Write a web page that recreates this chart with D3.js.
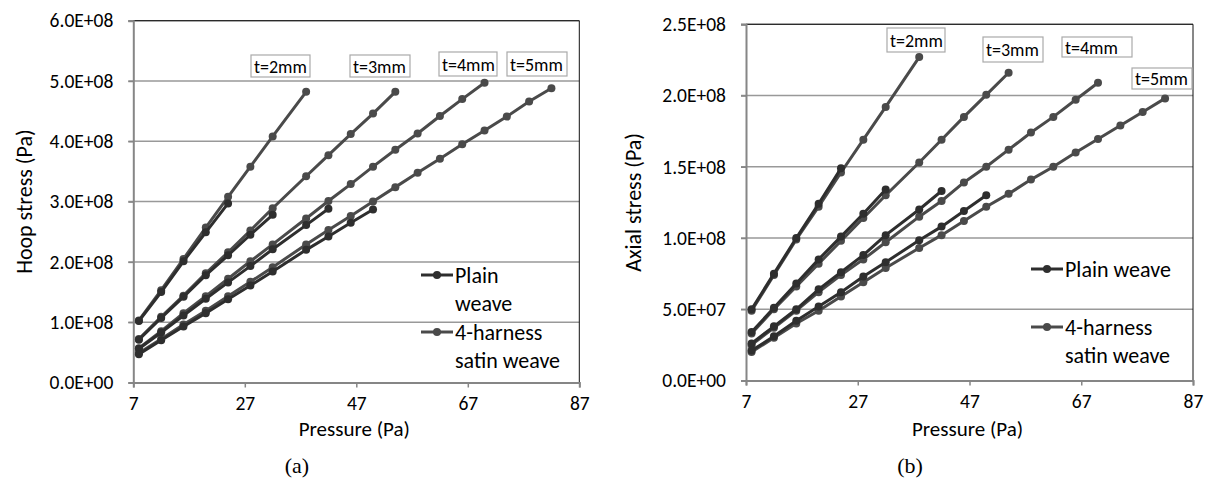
<!DOCTYPE html>
<html>
<head>
<meta charset="utf-8">
<script src="https://cdn.jsdelivr.net/npm/d3@7"></script>
<style>
  body { margin: 0; background: #fff; }
  svg text { font-family: Carlito, Lato, "Open Sans", sans-serif; fill: #000; }
</style>
</head>
<body>
<svg id="chart" width="1210" height="491"></svg>
<script>
// Pressure steps shared by every series (each series uses the first n of them)
const pressure = [8, 12, 16, 20, 24, 28, 32, 38, 42, 46, 50, 54, 58, 62, 66, 70, 74, 78, 82];
const thickness = ['t=2mm', 't=3mm', 't=4mm', 't=5mm'];
const xTicks = [7, 27, 47, 67, 87];

// (a) hoop stress, units of 1e8 Pa
const hoopPlain = [
  [1.02, 1.50, 2.01, 2.49, 2.97],
  [0.71, 1.07, 1.42, 1.78, 2.11, 2.45, 2.78],
  [0.56, 0.83, 1.11, 1.39, 1.66, 1.93, 2.21, 2.61, 2.88],
  [0.47, 0.70, 0.93, 1.15, 1.38, 1.61, 1.84, 2.20, 2.42, 2.65, 2.87]
];
const hoopSatin = [
  [1.03, 1.53, 2.05, 2.57, 3.08, 3.58, 4.08, 4.82],
  [0.72, 1.09, 1.44, 1.81, 2.16, 2.52, 2.89, 3.42, 3.77, 4.12, 4.46, 4.82],
  [0.57, 0.85, 1.15, 1.43, 1.72, 2.01, 2.29, 2.72, 3.01, 3.29, 3.58, 3.86, 4.13, 4.42, 4.70, 4.97],
  [0.49, 0.72, 0.96, 1.19, 1.43, 1.67, 1.91, 2.29, 2.53, 2.76, 3.00, 3.24, 3.48, 3.71, 3.95, 4.18, 4.41, 4.66, 4.88]
];
const hoopTicks = [0, 1e8, 2e8, 3e8, 4e8, 5e8, 6e8];

// (b) axial stress, units of 1e8 Pa
const axialPlain = [
  [0.50, 0.75, 1.00, 1.24, 1.49],
  [0.34, 0.51, 0.68, 0.85, 1.01, 1.17, 1.34],
  [0.26, 0.38, 0.50, 0.64, 0.76, 0.88, 1.02, 1.20, 1.33],
  [0.21, 0.31, 0.42, 0.52, 0.62, 0.73, 0.83, 0.985, 1.08, 1.19, 1.30]
];
const axialSatin = [
  [0.49, 0.74, 0.99, 1.22, 1.46, 1.69, 1.92, 2.27],
  [0.33, 0.50, 0.66, 0.82, 0.98, 1.14, 1.30, 1.53, 1.69, 1.85, 2.005, 2.16],
  [0.25, 0.37, 0.49, 0.62, 0.74, 0.85, 0.97, 1.15, 1.26, 1.39, 1.50, 1.62, 1.74, 1.85, 1.97, 2.09],
  [0.20, 0.30, 0.40, 0.49, 0.59, 0.69, 0.79, 0.93, 1.02, 1.12, 1.22, 1.31, 1.41, 1.50, 1.60, 1.695, 1.79, 1.885, 1.98]
];
const axialTicks = [0, 0.5e8, 1e8, 1.5e8, 2e8, 2.5e8];

const svg = d3.select('#chart');

// Excel style "6.0E+08"
function sci(v) {
  const s = v.toExponential(1).split('e');
  const e = parseInt(s[1], 10);
  return s[0] + 'E' + (e < 0 ? '-' : '+') + String(Math.abs(e)).padStart(2, '0');
}

function drawPanel(cfg) {
  const x = d3.scaleLinear().domain([7, 87]).range([cfg.left, cfg.right]);
  const y = d3.scaleLinear().domain([0, cfg.yMax]).range([cfg.bottom, cfg.top]);
  const g = svg.append('g');

  // gridlines
  g.selectAll('line.grid').data(cfg.yTicks.slice(1)).enter().append('line')
    .attr('x1', cfg.left - 5).attr('x2', cfg.right)
    .attr('y1', d => y(d)).attr('y2', d => y(d))
    .style('stroke', '#999').style('stroke-width', 1.5);

  // frame top / right
  g.append('path')
    .attr('d', `M${cfg.left},${cfg.top}H${cfg.right}V${cfg.bottom}`)
    .style('fill', 'none').style('stroke', '#111').style('stroke-width', 1);

  // y axis
  const yAxis = d3.axisLeft(y).tickValues(cfg.yTicks).tickFormat(sci).tickSize(5).tickPadding(15);
  const ya = g.append('g').attr('transform', `translate(${cfg.left},0)`).call(yAxis);
  // x axis
  const xAxis = d3.axisBottom(x).tickValues(xTicks).tickFormat(d3.format('d')).tickSize(5).tickPadding(9);
  const xa = g.append('g').attr('transform', `translate(0,${cfg.bottom})`).call(xAxis);
  [ya, xa].forEach(a => {
    a.select('.domain').style('stroke', '#868686').style('stroke-width', 2);
    a.selectAll('.tick line').style('stroke', '#868686').style('stroke-width', 1.5);
    a.selectAll('.tick text').style('font-size', '19.5px').style('fill', '#000');
  });

  // series
  const line = d3.line().x((d, i) => x(pressure[i])).y(d => y(d * 1e8));
  const groups = [
    { data: cfg.satin, color: '#4a4a4a' },
    { data: cfg.plain, color: '#2e2e2e' }
  ];
  groups.forEach(grp => {
    grp.data.forEach(vals => {
      g.append('path').datum(vals).attr('d', line)
        .style('fill', 'none').style('stroke', grp.color).style('stroke-width', 3);
      g.selectAll(null).data(vals).enter().append('circle')
        .attr('cx', (d, i) => x(pressure[i])).attr('cy', d => y(d * 1e8))
        .attr('r', 4).style('fill', grp.color);
    });
  });

  // thickness boxes
  cfg.boxes.forEach((b, i) => {
    g.append('rect').attr('x', b[0]).attr('y', b[1]).attr('width', b[2]).attr('height', b[3])
      .style('fill', '#fff').style('stroke', '#aaa').style('stroke-width', 1.2);
    g.append('text').attr('x', b[0] + 3).attr('y', b[1] + b[3] / 2 + 6.5)
      .style('font-size', '18px').text(thickness[i]);
  });

  // legend
  cfg.legend.forEach(it => {
    g.append('line').attr('x1', it.x).attr('x2', it.x + 32).attr('y1', it.y).attr('y2', it.y)
      .style('stroke', it.color).style('stroke-width', 3);
    g.append('circle').attr('cx', it.x + 16).attr('cy', it.y).attr('r', 4).style('fill', it.color);
    it.lines.forEach((t, k) => {
      g.append('text').attr('x', it.x + 34).attr('y', it.y + 7.5 + k * 28.5)
        .style('font-size', '22px').text(t);
    });
  });

  // axis titles
  g.append('text').attr('transform', `translate(${cfg.yTitleX},${(cfg.top + cfg.bottom) / 2}) rotate(-90)`)
    .attr('text-anchor', 'middle').style('font-size', '22px').text(cfg.yTitle);
  g.append('text').attr('x', (cfg.left + cfg.right) / 2 - 2).attr('y', 436)
    .attr('text-anchor', 'middle').style('font-size', '21px').text('Pressure (Pa)');
  g.append('text').attr('x', cfg.capX).attr('y', 473).attr('text-anchor', 'middle')
    .style('font-family', '"Liberation Serif", "DejaVu Serif", serif').style('font-size', '22px')
    .text(cfg.caption);
}

drawPanel({
  left: 133.3, right: 579.3, top: 20.7, bottom: 382.5, yMax: 6e8, yTicks: hoopTicks,
  plain: hoopPlain, satin: hoopSatin,
  boxes: [[251, 55, 59, 22], [350, 55, 60, 22], [439, 52, 58, 24], [507, 52, 60, 24]],
  legend: [
    { x: 421, y: 275, color: '#2e2e2e', lines: ['Plain', 'weave'] },
    { x: 421, y: 332, color: '#4a4a4a', lines: ['4-harness', 'satin weave'] }
  ],
  yTitle: 'Hoop stress (Pa)', yTitleX: 32, caption: '(a)', capX: 297
});

drawPanel({
  left: 746, right: 1193, top: 24.3, bottom: 380.5, yMax: 2.5e8, yTicks: axialTicks,
  plain: axialPlain, satin: axialSatin,
  boxes: [[887, 28, 58, 24], [983, 37, 60, 25], [1062, 37, 70, 20], [1132, 68, 60, 21]],
  legend: [
    { x: 1031, y: 269, color: '#2e2e2e', lines: ['Plain weave'] },
    { x: 1031, y: 327, color: '#4a4a4a', lines: ['4-harness', 'satin weave'] }
  ],
  yTitle: 'Axial stress (Pa)', yTitleX: 641, caption: '(b)', capX: 910
});
</script>
</body>
</html>
